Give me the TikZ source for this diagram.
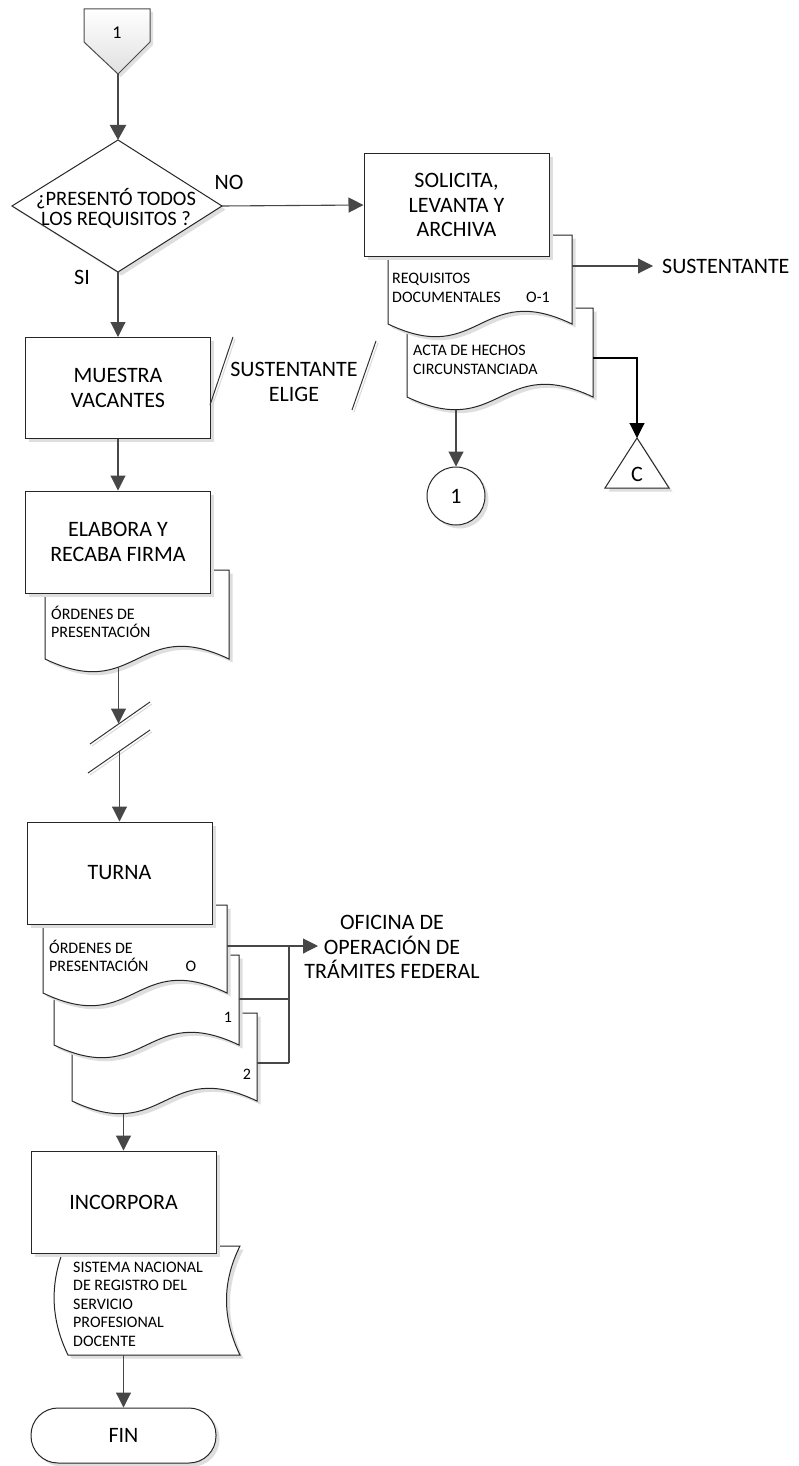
\documentclass[tikz,border=0pt]{standalone}
\usepackage{fontspec}
\setmainfont{Carlito}
\usetikzlibrary{arrows.meta,shadows}
\tikzset{
  bigf/.style={font=\fontsize{22}{24.5}\selectfont},
  smallf/.style={font=\fontsize{16}{18.5}\selectfont},
  ln/.style={draw=black!72, line width=1.1pt},
  arr/.style={ln, -{Triangle[width=15pt,length=15pt]}},
  shp/.style={draw=black!85, line width=1pt, fill=white,
    drop shadow={shadow xshift=3.5pt,shadow yshift=-3.5pt,fill=black!13,opacity=1}},
  box/.style={shp, rectangle, minimum width=185pt, minimum height=102pt, inner sep=0pt, align=center, bigf},
  lbl/.style={inner sep=0pt, align=left, anchor=west, smallf},
  txt/.style={inner sep=0pt, align=center},
  slash/.style={draw=black!80, line width=1pt, preaction={draw=black!15, line width=1pt, transform canvas={shift={(2pt,-2pt)}}}},
}
\newcommand\docshape[4]{%
  \draw[shp] (#1,#2) -- (#3,#2) -- (#3,#4)
    .. controls ({(#1+#3)/2},{#4-44}) and ({(#1+#3)/2},{#4+44}) .. (#1,#4) -- cycle;}
\begin{document}
\begin{tikzpicture}[x=1pt,y=-1pt]
\fill[white] (0,0) rectangle (799,1466);
\useasboundingbox (0,0) rectangle (799,1466);

% off-page connector
\draw[draw=black!70, line width=1pt, top color=white, bottom color=black!12,
  drop shadow={shadow xshift=3pt,shadow yshift=-3pt,fill=black!12,opacity=1}]
  (84,9) -- (150,9) -- (150,42) -- (118,74) -- (84,42) -- cycle;
\node[txt, font=\fontsize{18}{20}\selectfont] (opc) at (117,33) {1};
\coordinate (opcB) at (118,74);

% decision
\draw[shp] (118,140) -- (222,206) -- (118,272) -- (12,206) -- cycle;
\coordinate (dT) at (118,140);
\coordinate (dR) at (222,206);
\coordinate (dB) at (118,272);
\node[txt, font=\fontsize{20.5}{20}\selectfont] (qtxt) at (116,208) {¿PRESENTÓ TODOS\\LOS REQUISITOS ?};
\node[txt, bigf] (no) at (229,182) {NO};
\node[txt, bigf] (si) at (82,277) {SI};

% solicita group
\docshape{407}{308}{593}{397}
\docshape{388}{235}{572}{324}
\node[box] (solicita) at (456.5,205) {SOLICITA,\\LEVANTA Y\\ARCHIVA};
\node[lbl] (reqtxt) at (392,288) {REQUISITOS\\DOCUMENTALES};
\node[txt, smallf] (o1) at (538,297) {O-1};
\node[lbl] (actatxt) at (413,360) {ACTA DE HECHOS\\CIRCUNSTANCIADA};
\coordinate (reqE) at (572,266);
\coordinate (actaE) at (593,358);
\coordinate (actaB) at (456,409.5);
\node[txt, bigf, anchor=west] (sust) at (662,266) {SUSTENTANTE};
\coordinate (sustIn) at (653,266);

% triangle C
\draw[shp] (637,438) -- (669,488) -- (605,488) -- cycle;
\coordinate (cT) at (637,438);
\node[txt, bigf] (ctxt) at (637,474) {C};

% circle 1
\node[shp, circle, minimum size=58pt, inner sep=0pt, bigf] (circ) at (456,496) {1};

% muestra
\node[box, minimum height=101pt] (muestra) at (118,388) {MUESTRA\\VACANTES};
\draw[slash] (210,405) -- (233,337);
\draw[slash] (352,410) -- (376,341);
\node[txt, bigf] (elige) at (294,382) {SUSTENTANTE\\ELIGE};

% elabora
\docshape{45}{570}{229}{659}
\node[box] (elabora) at (118,542) {ELABORA Y\\RECABA FIRMA};
\node[lbl] (ordtxt) at (51,622) {ÓRDENES DE\\PRESENTACIÓN};
\coordinate (ordB) at (118.5,667);

% break marks
\draw[slash] (90,744) -- (150,702);
\draw[slash] (88,773) -- (150,730);
\coordinate (brk1) at (118.5,723.5);
\coordinate (brk2) at (119.5,752);

% turna
\docshape{72}{1013}{257}{1101}
\docshape{54}{955}{239}{1045}
\docshape{43}{905}{227}{993}
\node[box] (turna) at (119.5,873) {TURNA};
\node[lbl] (ord0) at (49,956) {ÓRDENES DE\\PRESENTACIÓN};
\node[txt, smallf] (n0) at (191,966) {O};
\node[txt, smallf] (n1) at (228,1017) {1};
\node[txt, smallf] (n2) at (247,1074) {2};
\coordinate (d0E) at (227,946);
\coordinate (d1E) at (239,999);
\coordinate (d2E) at (257,1063);
\coordinate (j0) at (289,946);
\coordinate (j2) at (289,1063);
\coordinate (d2B) at (123.5,1113.5);
\node[txt, bigf] (ofi) at (392,947) {OFICINA DE\\OPERACIÓN DE\\TRÁMITES FEDERAL};
\coordinate (ofiIn) at (318,946);

% incorpora
\draw[shp] (65,1246) -- (240,1246) .. controls (222,1282) and (222,1318) .. (240,1355)
  -- (68,1355) .. controls (50,1318) and (50,1282) .. (65,1246) -- cycle;
\node[box] (incorpora) at (123.5,1202) {INCORPORA};
\node[lbl] (snrtxt) at (73,1304) {SISTEMA NACIONAL\\DE REGISTRO DEL\\SERVICIO\\PROFESIONAL\\DOCENTE};
\coordinate (snrB) at (123.5,1355);

% fin
\node[shp, rectangle, rounded corners=27pt, minimum width=185pt, minimum height=55pt, inner sep=0pt, bigf] (fin) at (123.5,1435.5) {FIN};

% connectors
\draw[ln, line width=2.2pt, -{Triangle[width=16pt,length=15pt]}] (opcB) -- (dT);
\draw[arr] (dR) -- (solicita.west);
\draw[arr] (dB) -- (muestra.north);
\draw[arr] (reqE) -- (sustIn);
\draw[arr, draw=black] (actaE) -| (cT);
\draw[arr] (actaB) -- (circ.north);
\draw[arr] (muestra.south) -- (elabora.north);
\draw[arr] (ordB) -- (brk1);
\draw[arr] (brk2) -- (turna.north);
\draw[arr] (d0E) -- (ofiIn);
\draw[ln] (j0) -- (j2);
\draw[ln] (d1E) -- (d1E -| j0);
\draw[ln] (d2E) -- (j2);
\draw[arr] (d2B) -- (incorpora.north);
\draw[arr] (snrB) -- (fin.north);
\end{tikzpicture}
\end{document}
